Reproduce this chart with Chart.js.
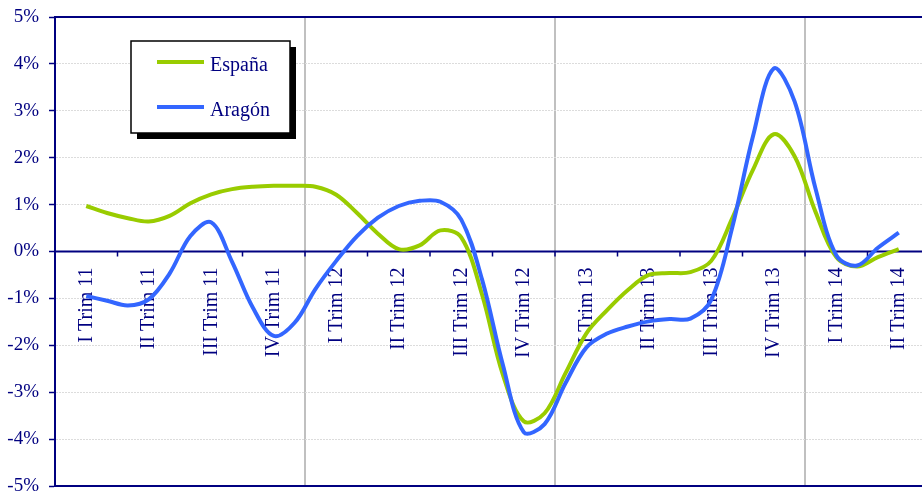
<!DOCTYPE html>
<html>
<head>
<meta charset="utf-8">
<script src="https://cdn.jsdelivr.net/npm/chart.js@4.4.1/dist/chart.umd.min.js"></script>
<style>
  body { margin: 0; width: 922px; height: 495px; overflow: hidden; background: #fff; }
  #wrap { width: 930px; height: 495px; }
</style>
</head>
<body>
<div id="wrap"><canvas id="chart"></canvas></div>
<script>
const quarters = ["I Trim 11", "II Trim 11", "III Trim 11", "IV Trim 11",
  "I Trim 12", "II Trim 12", "III Trim 12", "IV Trim 12",
  "I Trim 13", "II Trim 13", "III Trim 13", "IV Trim 13",
  "I Trim 14", "II Trim 14"];

// monthly readings, the first one sits under "I Trim 11", one every month after
const espana = [0.97, 0.82, 0.71, 0.64, 0.76, 1.03, 1.22, 1.33, 1.38, 1.40,
  1.40, 1.38, 1.21, 0.82, 0.38, 0.05, 0.13, 0.45, 0.30, -0.92,
  -2.63, -3.62, -3.45, -2.6, -1.75, -1.25, -0.82, -0.5, -0.46, -0.44,
  -0.2, 0.7, 1.74, 2.5, 2.03, 0.85, -0.12, -0.32, -0.12, 0.05];

const aragon = [-0.95, -1.05, -1.15, -1.02, -0.47, 0.33, 0.62, -0.22, -1.2, -1.8,
  -1.52, -0.8, -0.2, 0.33, 0.72, 0.97, 1.08, 1.06, 0.68, -0.6,
  -2.42, -3.85, -3.68, -2.81, -2.05, -1.75, -1.6, -1.49, -1.44, -1.43,
  -1.03, 0.5, 2.45, 3.9, 3.2, 1.35, -0.08, -0.3, 0.08, 0.4];

const yTicks = [-5, -4, -3, -2, -1, 0, 1, 2, 3, 4, 5];

const navy = "#000080";
const serif = "'Liberation Serif', 'Times New Roman', serif";

// a new year starts at every "I Trim" quarter (except the first one)
const yearStarts = [];
quarters.forEach((q, i) => {
  if (i > 0 && q.startsWith("I Trim")) yearStarts.push(i * 3 - 1.5);
});

const axisPlugin = {
  id: "zeroAxis",
  beforeDatasetsDraw(chart) {
    const ctx = chart.ctx;
    const area = chart.chartArea;
    const x = chart.scales.x;
    const zero = chart.scales.y.getPixelForValue(0);

    ctx.save();
    ctx.strokeStyle = navy;
    ctx.lineWidth = 2;
    ctx.beginPath();
    ctx.moveTo(area.left, area.top); ctx.lineTo(area.right, area.top);
    ctx.moveTo(area.left, area.bottom); ctx.lineTo(area.right, area.bottom);
    ctx.moveTo(area.left, zero); ctx.lineTo(area.right, zero);
    ctx.stroke();

    ctx.lineWidth = 1.5;
    ctx.beginPath();
    for (let q = 0; q <= quarters.length; q++) {
      const px = x.getPixelForValue(q * 3 - 1.5);
      ctx.moveTo(px, zero);
      ctx.lineTo(px, zero + 5);
    }
    ctx.stroke();

    ctx.fillStyle = navy;
    ctx.font = "20px " + serif;
    ctx.textAlign = "right";
    ctx.textBaseline = "middle";
    quarters.forEach((q, i) => {
      ctx.save();
      ctx.translate(x.getPixelForValue(i * 3), zero + 16);
      ctx.rotate(-Math.PI / 2);
      ctx.fillText(q, 0, 0);
      ctx.restore();
    });
    ctx.restore();
  }
};

const legendPlugin = {
  id: "boxLegend",
  afterDatasetsDraw(chart) {
    const ctx = chart.ctx;
    const bx = 131, by = 41, bw = 159, bh = 92;
    ctx.save();
    ctx.fillStyle = "#000";
    ctx.fillRect(bx + 6, by + 6, bw, bh);
    ctx.fillStyle = "#fff";
    ctx.fillRect(bx, by, bw, bh);
    ctx.strokeStyle = "#000";
    ctx.lineWidth = 1.5;
    ctx.strokeRect(bx, by, bw, bh);

    ctx.font = "20px " + serif;
    ctx.textAlign = "left";
    ctx.textBaseline = "alphabetic";
    chart.data.datasets.forEach((ds, i) => {
      const ly = by + 21 + i * 45;
      ctx.strokeStyle = ds.borderColor;
      ctx.lineWidth = 4;
      ctx.beginPath();
      ctx.moveTo(bx + 26, ly);
      ctx.lineTo(bx + 73, ly);
      ctx.stroke();
      ctx.fillStyle = navy;
      ctx.fillText(ds.label, bx + 79, ly + 9);
    });
    ctx.restore();
  }
};

new Chart(document.getElementById("chart"), {
  type: "line",
  data: {
    datasets: [
      {
        label: "España",
        data: espana.map((v, i) => ({ x: i, y: v })),
        borderColor: "#99cc00",
        borderWidth: 4,
        pointRadius: 0,
        tension: 0.35,
        order: 1
      },
      {
        label: "Aragón",
        data: aragon.map((v, i) => ({ x: i, y: v })),
        borderColor: "#3366ff",
        borderWidth: 4,
        pointRadius: 0,
        tension: 0.35,
        order: 0
      }
    ]
  },
  options: {
    responsive: true,
    maintainAspectRatio: false,
    animation: false,
    layout: { padding: { top: 17, bottom: 9, left: 0, right: 0 } },
    plugins: {
      legend: { display: false },
      tooltip: { enabled: false }
    },
    scales: {
      x: {
        type: "linear",
        min: -1.5,
        max: quarters.length * 3 - 1.5,
        afterBuildTicks: s => { s.ticks = yearStarts.map(v => ({ value: v })); },
        ticks: { display: false },
        grid: { color: "#c0c0c0", lineWidth: 2, drawTicks: false },
        border: { display: false },
        afterFit: s => { s.height = 0; }
      },
      y: {
        min: yTicks[0],
        max: yTicks[yTicks.length - 1],
        afterBuildTicks: s => { s.ticks = yTicks.map(v => ({ value: v })); },
        ticks: {
          color: navy,
          font: { family: serif, size: 19 },
          padding: 10,
          callback: v => v + "%"
        },
        grid: { color: "#dcdcdc", tickColor: navy, tickLength: 6, tickWidth: 1.5 },
        border: { color: navy, width: 2, dash: [2, 1] },
        afterFit: s => { s.width = 55; s.paddingTop = 0; s.paddingBottom = 0; }
      }
    }
  },
  plugins: [axisPlugin, legendPlugin]
});
</script>
</body>
</html>
